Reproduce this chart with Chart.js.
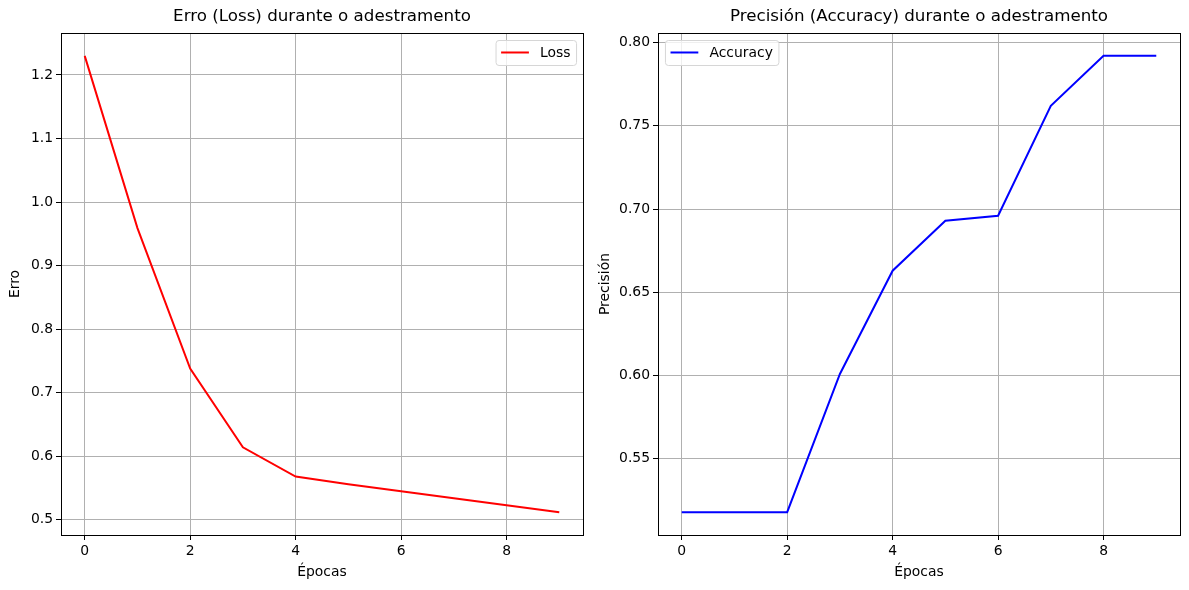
<!DOCTYPE html>
<html>
<head>
<meta charset="utf-8">
<script src="https://cdn.jsdelivr.net/npm/chart.js@4"></script>
<style>
  body { margin: 0; background: #fff; }
  #wrap { position: relative; width: 1189px; height: 590px; }
  canvas { position: absolute; top: 0; }
</style>
</head>
<body>
<div id="wrap">
  <canvas id="lossChart" width="594" height="590" style="left:0"></canvas>
  <canvas id="accChart" width="595" height="590" style="left:594px"></canvas>
</div>
<script>
// values
const epochs = [0, 1, 2, 3, 4, 5, 6, 7, 8, 9];
const lossValues = [1.230, 0.959, 0.738, 0.614, 0.568, 0.556, 0.545, 0.534, 0.523, 0.512];
const accValues = [0.518, 0.518, 0.518, 0.601, 0.663, 0.693, 0.696, 0.762, 0.792, 0.792];
const xTicks = [0, 2, 4, 6, 8];
const lossTicks = [0.5, 0.6, 0.7, 0.8, 0.9, 1.0, 1.1, 1.2];
const accTicks = [0.55, 0.60, 0.65, 0.70, 0.75, 0.80];

const FONT = '"DejaVu Sans"';
const TICK = 13.9;
const TITLE = 16.7;

// box round the axes, like the matplotlib spines
const axesFrame = {
  id: 'axesFrame',
  afterDatasetsDraw(chart) {
    const { ctx, chartArea: a } = chart;
    ctx.save();
    ctx.strokeStyle = '#000';
    ctx.lineWidth = 1;
    ctx.strokeRect(Math.round(a.left) + 0.5, Math.round(a.top) + 0.5,
      Math.round(a.right - a.left), Math.round(a.bottom - a.top));
    ctx.restore();
  }
};

// legend drawn inside the axes
const boxLegend = {
  id: 'boxLegend',
  afterDraw(chart, args, opts) {
    const { ctx, chartArea: a } = chart;
    const ds = chart.data.datasets[0];
    ctx.save();
    ctx.font = TICK + 'px ' + FONT;
    const tw = ctx.measureText(ds.label).width;
    const pad = 0.4 * TICK, hl = 2 * TICK, gap = 0.8 * TICK, edge = 0.5 * TICK;
    const w = pad * 2 + hl + gap + tw, h = 25;
    const x = opts.corner === 'right' ? a.right - edge - w : a.left + edge;
    const y = a.top + edge;
    ctx.beginPath();
    ctx.roundRect(x + 0.5, y + 0.5, w, h, 3);
    ctx.fillStyle = 'rgba(255,255,255,0.8)';
    ctx.fill();
    ctx.strokeStyle = '#d6d6d6';
    ctx.lineWidth = 1;
    ctx.stroke();
    const cy = y + h / 2;
    ctx.beginPath();
    ctx.moveTo(x + pad, cy);
    ctx.lineTo(x + pad + hl, cy);
    ctx.strokeStyle = ds.borderColor;
    ctx.lineWidth = 2;
    ctx.stroke();
    ctx.fillStyle = '#000';
    ctx.textBaseline = 'middle';
    ctx.fillText(ds.label, x + pad + hl + gap, cy + 1);
    ctx.restore();
  }
};

function range(vals) {
  const lo = Math.min(...vals), hi = Math.max(...vals);
  const m = 0.05 * (hi - lo);
  return [lo - m, hi + m];
}

function makeChart(id, opts) {
  const [xmin, xmax] = range(epochs);
  const [ymin, ymax] = range(opts.values);
  return new Chart(document.getElementById(id), {
    type: 'line',
    data: {
      datasets: [{
        label: opts.label,
        data: epochs.map((e, i) => ({ x: e, y: opts.values[i] })),
        borderColor: opts.color,
        borderWidth: 2,
        pointRadius: 0,
        tension: 0,
        fill: false
      }]
    },
    options: {
      responsive: false,
      animation: false,
      layout: { padding: { left: 0, right: opts.rightPad, top: 0, bottom: 0 } },
      plugins: {
        legend: { display: false },
        tooltip: { enabled: false },
        title: {
          display: true,
          text: opts.title,
          fullSize: false,
          color: '#000',
          font: { family: FONT, size: TITLE, weight: 'normal' },
          padding: { top: 7, bottom: 6 }
        },
        boxLegend: { corner: opts.corner }
      },
      scales: {
        x: {
          type: 'linear',
          min: xmin,
          max: xmax,
          afterBuildTicks: s => { s.ticks = xTicks.map(v => ({ value: v })); },
          afterFit: s => { s.height = 55; },
          border: { display: false },
          grid: { color: '#b0b0b0', lineWidth: 1, tickColor: '#000', tickLength: 5 },
          ticks: { color: '#000', padding: 3, maxRotation: 0, font: { family: FONT, size: TICK }, callback: v => String(v) },
          title: { display: true, text: 'Épocas', color: '#000', font: { family: FONT, size: TICK }, padding: { top: 0, bottom: 9 } }
        },
        y: {
          type: 'linear',
          min: ymin,
          max: ymax,
          afterBuildTicks: s => { s.ticks = opts.ticks.map(v => ({ value: v })); },
          afterFit: s => { s.width = opts.yWidth; },
          border: { display: false },
          grid: { color: '#b0b0b0', lineWidth: 1, tickColor: '#000', tickLength: 5 },
          ticks: { color: '#000', padding: 3, font: { family: FONT, size: TICK }, callback: v => v.toFixed(opts.digits) },
          title: { display: true, text: opts.yLabel, color: '#000', font: { family: FONT, size: TICK }, padding: { top: opts.yTitlePad, bottom: 0 } }
        }
      }
    },
    plugins: [axesFrame, boxLegend]
  });
}

makeChart('lossChart', {
  label: 'Loss', values: lossValues, color: '#ff0000', ticks: lossTicks, digits: 1,
  title: 'Erro (Loss) durante o adestramento', yLabel: 'Erro', corner: 'right',
  yWidth: 61, rightPad: 11, yTitlePad: 7.5
});
makeChart('accChart', {
  label: 'Accuracy', values: accValues, color: '#0000ff', ticks: accTicks, digits: 2,
  title: 'Precisión (Accuracy) durante o adestramento', yLabel: 'Precisión', corner: 'left',
  yWidth: 64, rightPad: 9, yTitlePad: 3
});
</script>
</body>
</html>
